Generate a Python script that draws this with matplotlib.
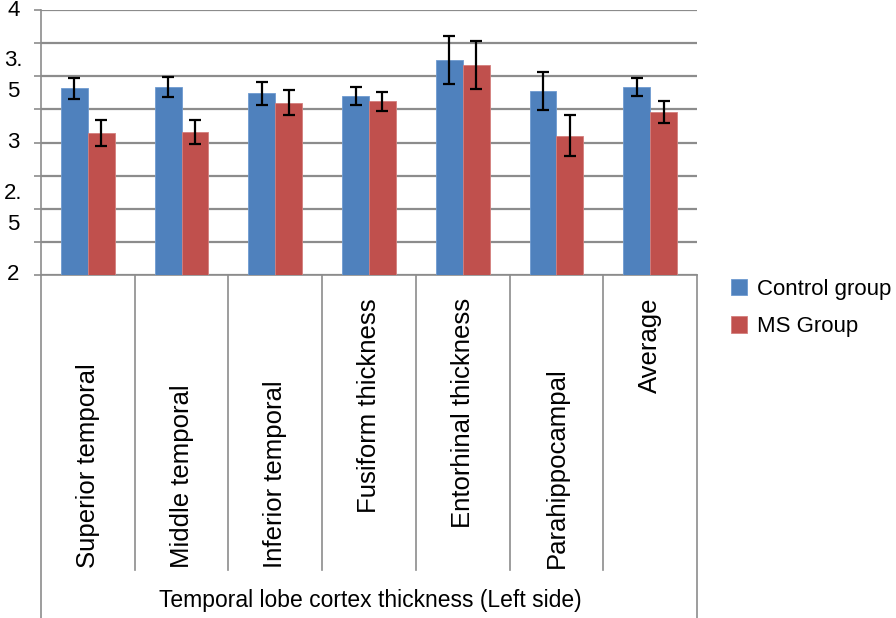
import matplotlib.pyplot as plt
import matplotlib.transforms as mtransforms
import numpy as np

plt.rcParams['font.family'] = ['Liberation Sans', 'DejaVu Sans']

# Data
categories = ['Superior temporal', 'Middle temporal', 'Inferior temporal',
              'Fusiform thickness', 'Entorhinal thickness', 'Parahippocampal', 'Average']
control = [3.41, 3.42, 3.37, 3.35, 3.62, 3.39, 3.42]
control_err = [0.08, 0.076, 0.085, 0.07, 0.18, 0.145, 0.07]
ms_group = [3.07, 3.08, 3.30, 3.31, 3.585, 3.05, 3.23]
ms_err = [0.097, 0.093, 0.093, 0.071, 0.18, 0.155, 0.083]
# labels pinned to top of the label area, others to the bottom
top_aligned = ['Fusiform thickness', 'Entorhinal thickness', 'Average']

ytick_vals = [2, 2.5, 3, 3.5, 4]
ytick_labels = ['2', '2.\n5', '3', '3.\n5', '4']

color_ctrl = '#4F81BD'
color_ms = '#C0504D'
grid_col = '#8C8C8C'

W, H = 896, 618
fig = plt.figure(figsize=(W / 100, H / 100), dpi=100)
ax = fig.add_axes([41 / W, 1 - 275 / H, 656 / W, 265 / H])

x = np.arange(len(categories))
bw = 0.286
ax.bar(x - bw / 2, control, bw, color=color_ctrl, edgecolor='#6E9BD1', linewidth=0.6,
       label='Control group', zorder=3)
ax.bar(x + bw / 2, ms_group, bw, color=color_ms, edgecolor='#D47F7D', linewidth=0.6,
       label='MS Group', zorder=3)
ax.errorbar(x - bw / 2, control, yerr=control_err, fmt='none', ecolor='black',
            elinewidth=1.6, capsize=4.5, capthick=1.6, zorder=4)
ax.errorbar(x + bw / 2, ms_group, yerr=ms_err, fmt='none', ecolor='black',
            elinewidth=1.6, capsize=4.5, capthick=1.6, zorder=4)

ax.set_xlim(-0.5, len(categories) - 0.5)
ax.set_ylim(2, 4)
ax.set_yticks(ytick_vals)
ax.set_yticks(np.arange(2.25, 4, 0.5), minor=True)
ax.set_yticklabels(ytick_labels)
ax.tick_params(axis='y', which='both', length=5, width=1.2, color=grid_col, pad=15,
               labelsize=16)
for lab in ax.get_yticklabels():
    lab.set_horizontalalignment('center')
    lab.set_verticalalignment('center')
    lab.set_multialignment('center')
    lab.set_linespacing(1.65)
ax.set_xticks([])

ax.set_axisbelow(True)
ax.yaxis.grid(True, which='both', color=grid_col, linewidth=1.6)
for s in ['top', 'right']:
    ax.spines[s].set_visible(False)
for s in ['left', 'bottom']:
    ax.spines[s].set_color(grid_col)
    ax.spines[s].set_linewidth(1.2)

# category box below the axis
trans = mtransforms.blended_transform_factory(ax.transData, fig.transFigure)
edges = np.arange(len(categories) + 1) - 0.5
y_axis = 1 - 275 / H
for i, e in enumerate(edges):
    y_end = 0 if i in (0, len(edges) - 1) else 1 - 570 / H
    ax.plot([e, e], [y_axis, y_end], transform=trans, color=grid_col, lw=1.2, clip_on=False)

for i, cat in enumerate(categories):
    if cat in top_aligned:
        ax.text(i, 1 - 298 / H, cat, transform=trans, rotation=90, ha='center', va='top',
                fontsize=18.5)
    else:
        ax.text(i, 1 - 568 / H, cat, transform=trans, rotation=90, ha='center', va='bottom',
                fontsize=18.5)

fig.text(370 / W, 1 - 601 / H, 'Temporal lobe cortex thickness (Left side)',
         ha='center', va='center', fontsize=16.5)

ax.legend(loc='upper left', bbox_to_anchor=(724 / W, 1 - 272 / H),
          bbox_transform=fig.transFigure, frameon=False, fontsize=16,
          handlelength=0.75, handleheight=0.75, handletextpad=0.45, labelspacing=0.75,
          borderaxespad=0, borderpad=0.3)

fig.savefig('out.png', dpi=100, facecolor='white')
